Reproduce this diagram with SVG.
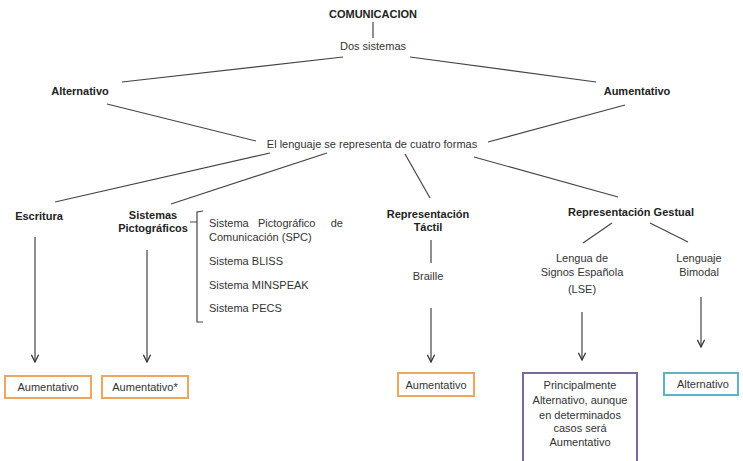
<svg xmlns="http://www.w3.org/2000/svg" width="743" height="461" viewBox="0 0 743 461">
<style>
text{font-family:"Liberation Sans",Arial,sans-serif;font-size:11px;fill:#333;text-anchor:middle}
.b{font-weight:bold;fill:#222}
.l{text-anchor:start}
.e{text-anchor:end}
.c{stroke:#444;stroke-width:1.2;fill:none}
.a{marker-end:url(#arr)}
.bx{fill:#fff;stroke-width:2}
</style>
<defs>
<marker id="arr" viewBox="0 0 10 10" refX="9" refY="5" markerWidth="9" markerHeight="9" markerUnits="userSpaceOnUse" orient="auto">
<path d="M1,1 L9,5 L1,9" fill="none" stroke="#333" stroke-width="1.4"/>
</marker>
</defs>
<rect width="743" height="461" fill="#fff"/>
<g id="connectors">
<line class="c" x1="373" y1="22" x2="373" y2="38"/>
<line class="c" x1="343" y1="57" x2="122" y2="82"/>
<line class="c" x1="410" y1="57" x2="596" y2="82"/>
<line class="c" x1="107" y1="104" x2="256" y2="141"/>
<line class="c" x1="625" y1="105" x2="488" y2="142"/>
<line class="c" x1="270" y1="153" x2="55" y2="202"/>
<line class="c" x1="327" y1="153" x2="171" y2="204"/>
<line class="c" x1="405" y1="154" x2="430" y2="198"/>
<line class="c" x1="474" y1="157" x2="618" y2="197"/>
<line class="c" x1="612" y1="223" x2="583" y2="243"/>
<line class="c" x1="650" y1="223" x2="688" y2="242"/>
<line class="c" x1="431" y1="240" x2="431" y2="263"/>
<line class="c a" x1="35" y1="237" x2="35" y2="362"/>
<line class="c a" x1="147" y1="250" x2="147" y2="362"/>
<line class="c a" x1="431" y1="308" x2="431" y2="362"/>
<line class="c a" x1="582" y1="312" x2="582" y2="360"/>
<line class="c a" x1="701" y1="297" x2="701" y2="347"/>
<path class="c" d="M203,211 L197,212 L197,222 L190,222 M197,222 L197,322 L203,322"/>
</g>
<g id="comunicacion"><text class="b" x="373" y="18">COMUNICACION</text></g>
<g id="dos-sistemas"><text x="373" y="50">Dos sistemas</text></g>
<g id="alternativo"><text class="b" x="80" y="95">Alternativo</text></g>
<g id="aumentativo"><text class="b" x="637" y="95">Aumentativo</text></g>
<g id="lenguaje"><text x="372" y="148">El lenguaje se representa de cuatro formas</text></g>
<g id="escritura"><text class="b" x="39" y="220">Escritura</text></g>
<g id="sistemas-pictograficos"><text class="b" x="153" y="219">Sistemas</text><text class="b" x="153" y="232">Pictográficos</text></g>
<g id="lista-pictograficos">
<text class="l" x="209" y="227">Sistema</text>
<text class="l" x="258" y="227">Pictográfico</text>
<text class="e" x="343" y="227">de</text>
<text class="l" x="209" y="241">Comunicación (SPC)</text>
<text class="l" x="209" y="265">Sistema BLISS</text>
<text class="l" x="209" y="289">Sistema MINSPEAK</text>
<text class="l" x="209" y="312">Sistema PECS</text>
</g>
<g id="rep-tactil"><text class="b" x="428" y="218">Representación</text><text class="b" x="428" y="231">Táctil</text></g>
<g id="braille"><text x="428" y="280">Braille</text></g>
<g id="rep-gestual"><text class="b" x="631" y="216">Representación Gestual</text></g>
<g id="lse"><text x="582" y="262">Lengua de</text><text x="582" y="276">Signos Española</text><text x="582" y="293">(LSE)</text></g>
<g id="bimodal"><text x="699" y="262">Lenguaje</text><text x="699" y="276">Bimodal</text></g>
<g id="box-escritura"><rect class="bx" x="5" y="376" width="86" height="22" stroke="#eea55c"/><text x="48" y="391">Aumentativo</text></g>
<g id="box-picto"><rect class="bx" x="102" y="376" width="86" height="22" stroke="#eea55c"/><text x="145" y="391">Aumentativo*</text></g>
<g id="box-tactil"><rect class="bx" x="398" y="373" width="76" height="23" stroke="#eea55c"/><text x="436" y="389">Aumentativo</text></g>
<g id="box-lse"><rect class="bx" x="523" y="373" width="114" height="92" stroke="#7d679e"/>
<text x="580" y="389">Principalmente</text>
<text x="580" y="404">Alternativo, aunque</text>
<text x="580" y="419">en determinados</text>
<text x="580" y="432">casos será</text>
<text x="580" y="446">Aumentativo</text></g>
<g id="box-bimodal"><rect class="bx" x="664" y="373" width="74" height="22" stroke="#5fb3c6"/><text x="703" y="388">Alternativo</text></g>
</svg>
